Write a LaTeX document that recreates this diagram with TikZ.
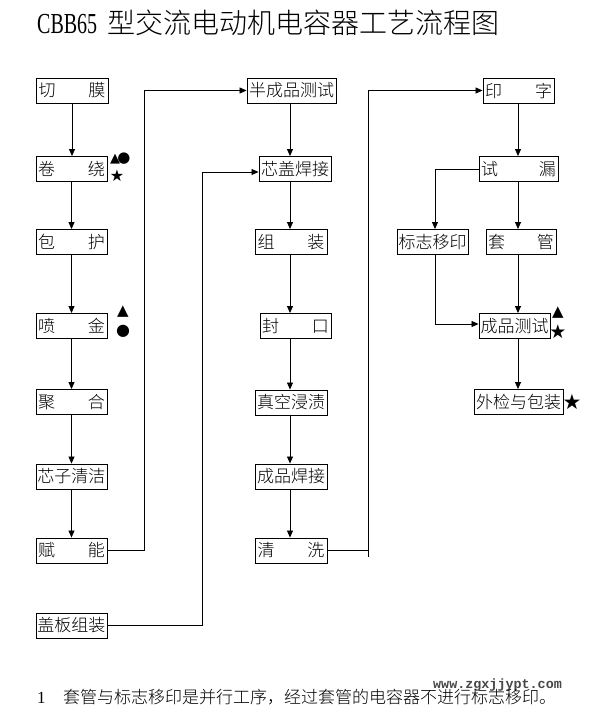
\documentclass[tikz,border=0pt]{standalone}
\usepackage{fontspec}
\usepackage{graphicx}
\usetikzlibrary{arrows.meta}
\newfontfamily\cjk{Noto Sans CJK SC Light}
\newfontfamily\latserif{Liberation Serif}
\newfontfamily\wmfont{Liberation Mono}
\newfontfamily\symfont{DejaVu Sans}
\newcommand\spreadtwo[3]{\makebox[#1]{#2\hfill#3}}
\begin{document}
\begin{tikzpicture}[x=1pt,y=-1pt,
  box/.style={draw, line width=0.9pt, inner sep=0pt, minimum height=25pt, font=\cjk\fontsize{17}{17}\selectfont},
  arr/.style={line width=0.8pt, -{Triangle[length=7pt,width=6pt]}},
  ln/.style={line width=0.8pt},
  sym/.style={font=\symfont\fontsize{#1}{#1}\selectfont, inner sep=0pt}]
\useasboundingbox[fill=white] (0,0) rectangle (590,705);

% title
\node[anchor=base west, inner sep=0pt] (title) at (37,33)
  {\scalebox{0.69}[1]{\latserif\fontsize{29}{29}\selectfont CBB65}\hspace{10pt}{\cjk\fontsize{28}{28}\selectfont 型交流电动机电容器工艺流程图}};

% column 1
\node[box, minimum width=72pt] (qiemo)  at (72,90.5)   {\spreadtwo{67pt}{切}{膜}};
\node[box, minimum width=71pt] (juanrao) at (71.5,169) {\spreadtwo{67pt}{卷}{绕}};
\node[box, minimum width=71pt] (baohu)  at (71.5,242)  {\spreadtwo{67pt}{包}{护}};
\node[box, minimum width=71pt] (penjin) at (71.5,326)  {\spreadtwo{67pt}{喷}{金}};
\node[box, minimum width=71pt] (juhe)   at (71.5,402)  {\spreadtwo{67pt}{聚}{合}};
\node[box, minimum width=71pt] (xinzi)  at (71.5,476.5) {芯子清洁};
\node[box, minimum width=71pt] (funeng) at (71.5,550.5) {\spreadtwo{67pt}{赋}{能}};
\node[box, minimum width=71pt] (gaiban) at (71.5,625.5) {盖板组装};

% column 2
\node[box, minimum width=89pt] (bancp)   at (291.5,90.5) {半成品测试};
\node[box, minimum width=72pt] (xingai)  at (295,169)    {芯盖焊接};
\node[box, minimum width=72pt] (zuzhuang) at (291,242)   {\spreadtwo{67pt}{组}{装}};
\node[box, minimum width=71pt] (fengkou) at (295.5,326)  {\spreadtwo{67pt}{封}{口}};
\node[box, minimum width=72pt] (zhenkong) at (291,402.5) {真空浸渍};
\node[box, minimum width=72pt] (cphj)    at (291,476.5)  {成品焊接};
\node[box, minimum width=72pt] (qingxi)  at (291,550.5)  {\spreadtwo{67pt}{清}{洗}};

% column 3
\node[box, minimum width=71pt] (yinzi)   at (518.5,90.5) {\spreadtwo{67pt}{印}{字}};
\node[box, minimum width=79pt] (shilou)  at (518.5,169)  {\spreadtwo{75pt}{试}{漏}};
\node[box, minimum width=71pt] (biaozhi) at (432.5,242)  {标志移印};
\node[box, minimum width=70pt] (taoguan) at (521,242)    {\spreadtwo{66pt}{套}{管}};
\node[box, minimum width=71pt] (cpcs)    at (514.5,326)  {成品测试};
\node[box, minimum width=89pt] (waijian) at (518.5,402)  {外检与包装};

% column coordinates
\coordinate (c2) at (290,0);
\coordinate (c3) at (518,0);
\coordinate (bus1) at (144,0);
\coordinate (bus2) at (202,0);
\coordinate (bus3) at (368,0);
\coordinate (bus4) at (435,0);

% column 1 arrows
\draw[arr] (qiemo.south) -- (qiemo.south |- juanrao.north);
\draw[arr] (juanrao.south) -- (juanrao.south |- baohu.north);
\draw[arr] (baohu.south) -- (baohu.south |- penjin.north);
\draw[arr] (penjin.south) -- (penjin.south |- juhe.north);
\draw[arr] (juhe.south) -- (juhe.south |- xinzi.north);
\draw[arr] (xinzi.south) -- (xinzi.south |- funeng.north);

% column 2 arrows
\draw[arr] (bancp.south -| c2) -- (xingai.north -| c2);
\draw[arr] (xingai.south -| c2) -- (zuzhuang.north -| c2);
\draw[arr] (zuzhuang.south -| c2) -- (fengkou.north -| c2);
\draw[arr] (fengkou.south -| c2) -- (zhenkong.north -| c2);
\draw[arr] (zhenkong.south -| c2) -- (cphj.north -| c2);
\draw[arr] (cphj.south -| c2) -- (qingxi.north -| c2);

% column 3 arrows
\draw[arr] (yinzi.south -| c3) -- (shilou.north -| c3);
\draw[arr] (shilou.south -| c3) -- (taoguan.north -| c3);
\draw[arr] (taoguan.south -| c3) -- (cpcs.north -| c3);
\draw[arr] (cpcs.south -| c3) -- (waijian.north -| c3);
\draw[arr] (shilou.west) -| (bus4 |- biaozhi.north);
\draw[arr] (biaozhi.south -| bus4) |- ([yshift=2pt]cpcs.west);

% long connectors
\draw[arr] (funeng.east) -- (funeng.east -| bus1) |- (bancp.west);
\draw[arr] (gaiban.east) -- (gaiban.east -| bus2) |- ([yshift=-3pt]xingai.west);
\draw[arr] (qingxi.east) -- (qingxi.east -| bus3) |- (yinzi.west);
\draw[ln] (qingxi.east -| bus3) -- ++(0,6);

% symbols
\node[sym=13] (s1) at (115,159) {▲};
\node[sym=15] (s2) at (124,159) {●};
\node[sym=16] (s3) at (117,176) {★};
\node[sym=15] (s4) at (123,312) {▲};
\node[sym=16] (s5) at (123,331) {●};
\node[sym=15] (s6) at (558,313) {▲};
\node[sym=19] (s7) at (558,332) {★};
\node[sym=21] (s8) at (572,402) {★};

% watermark
\node[anchor=base west, inner sep=0pt, text=black!72] (wm) at (433,688)
  {\wmfont\bfseries\fontsize{13.4}{13.4}\selectfont www.zgxjjypt.com};

% note
\node[anchor=base west, inner sep=0pt] (note) at (37,703)
  {{\latserif\fontsize{17}{17}\selectfont 1}\hspace{17.5pt}{\cjk\fontsize{17}{17}\selectfont 套管与标志移印是并行工序，经过套管的电容器不进行标志移印。}};
\end{tikzpicture}
\end{document}
